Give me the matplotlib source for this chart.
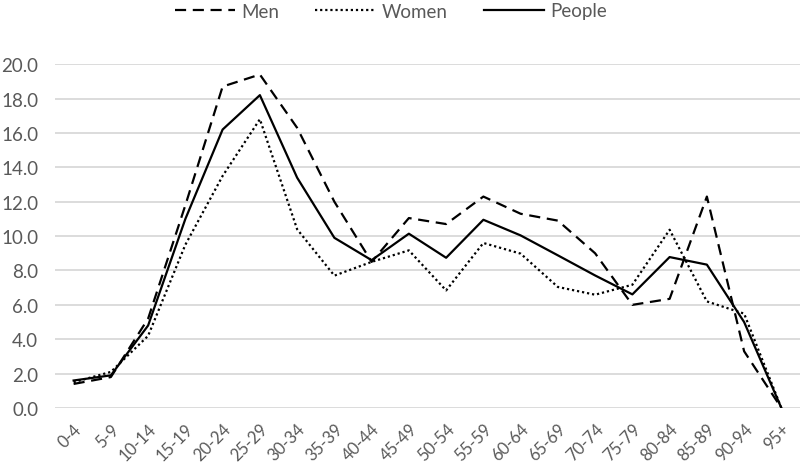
import matplotlib
matplotlib.use("Agg")
import matplotlib.pyplot as plt

categories = ["0-4", "5-9", "10-14", "15-19", "20-24", "25-29", "30-34", "35-39",
              "40-44", "45-49", "50-54", "55-59", "60-64", "65-69", "70-74",
              "75-79", "80-84", "85-89", "90-94", "95+"]
men = [1.4, 1.8, 5.2, 11.8, 18.7, 19.4, 16.3, 12.0, 8.5, 11.05, 10.7, 12.3,
       11.3, 10.9, 9.0, 6.0, 6.35, 12.3, 3.3, 0.0]
women = [1.5, 2.1, 4.2, 9.5, 13.5, 16.8, 10.4, 7.7, 8.5, 9.17, 6.84, 9.6,
         8.98, 7.04, 6.59, 7.17, 10.37, 6.2, 5.49, 0.0]
people = [1.6, 1.9, 4.8, 11.0, 16.2, 18.2, 13.4, 9.9, 8.6, 10.14, 8.74, 10.95,
          10.04, 8.88, 7.71, 6.61, 8.78, 8.34, 5.0, 0.0]
yticks = [0, 2, 4, 6, 8, 10, 12, 14, 16, 18, 20]

plt.rcParams['font.family'] = ['Lato', 'DejaVu Sans']
txt = '#595959'

fig = plt.figure(figsize=(8, 4.64), dpi=100)
ax = fig.add_axes([55/800, 55/464, 745/800, (409.3-65.5)/464])

x = list(range(len(categories)))
l1, = ax.plot(x, men, color='black', lw=1.6, linestyle=(0, (5, 3)), label='Men')
l2, = ax.plot(x, women, color='black', lw=1.6, linestyle=(0, (1, 1.3)), label='Women')
l3, = ax.plot(x, people, color='black', lw=1.6, linestyle='-', label='People')

ax.set_xlim(-0.5, len(categories) - 0.5)
ax.set_ylim(0, 20)
ax.set_yticks(yticks)
ax.set_yticklabels([f"{v:.1f}" for v in yticks])
ax.set_xticks(x)
ax.set_xticklabels(categories, rotation=45, ha='right', va='top', rotation_mode='anchor')
ax.tick_params(axis='y', length=0, pad=12, labelsize=13.5, labelcolor=txt)
ax.tick_params(axis='x', length=0, pad=9, labelsize=12, labelcolor=txt)
for t in ax.get_xticklabels():
    t.set_x(t.get_position()[0])
ax.yaxis.grid(True, color='#d9d9d9', lw=1.3)
ax.set_axisbelow(True)
for s in ['left', 'right', 'top', 'bottom']:
    ax.spines[s].set_visible(False)

fig.legend(handles=[l1, l2, l3], loc='center', bbox_to_anchor=(391/800, 1 - 12/464),
           ncol=3, frameon=False, fontsize=13.5, handlelength=3.2, handletextpad=0.37,
           columnspacing=1.9, labelcolor=txt)

fig.savefig('out.png', dpi=100)
